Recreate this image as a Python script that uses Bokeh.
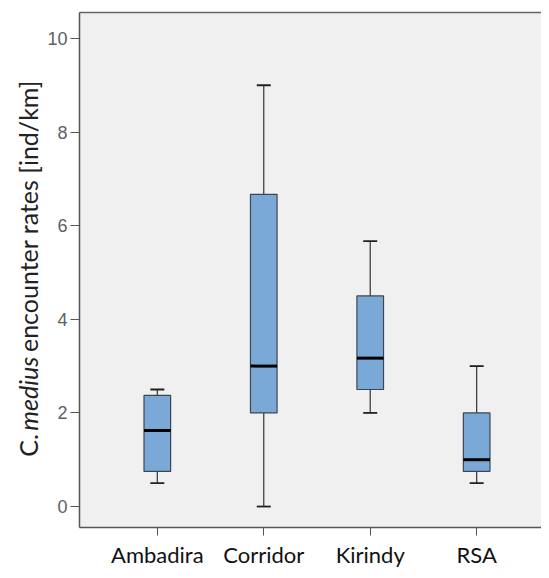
import numpy as np
from bokeh.plotting import figure
from bokeh.layouts import row
from bokeh.models import (Range1d, FixedTicker, LinearAxis, Whisker, TeeHead,
                          ColumnDataSource, Label)
from bokeh.embed import file_html
from bokeh.resources import INLINE

categories = ["Ambadira", "Corridor", "Kirindy", "RSA"]
whisker_low = [0.5, 0.0, 2.0, 0.5]
q1 = [0.75, 2.0, 2.5, 0.75]
median = [1.625, 3.0, 3.17, 1.0]
q3 = [2.375, 6.67, 4.5, 2.0]
whisker_high = [2.5, 9.0, 5.67, 3.0]
y_ticks = [0, 2, 4, 6, 8, 10]

pos = [i + 1 for i in range(len(categories))]
bw = 0.25
src = ColumnDataSource(dict(
    x=pos, lo=whisker_low, q1=q1, med=median, q3=q3, hi=whisker_high,
    mx0=[p_ - bw / 2 for p_ in pos], mx1=[p_ + bw / 2 for p_ in pos],
))

H = 570
yr = Range1d(-0.448, 10.554)

p = figure(width=497, height=H, output_backend="svg", toolbar_location=None,
           x_range=Range1d(0.269, 4.609), y_range=yr,
           min_border_left=34, min_border_right=0, min_border_top=12,
           min_border_bottom=42)
p.background_fill_color = "#F0F0F0"
p.border_fill_color = "white"
p.outline_line_color = None
p.grid.visible = False

# box
p.vbar(x="x", width=bw, bottom="q1", top="q3", source=src,
       fill_color="#7AA9D8", line_color="#3E4650", line_width=1.2)
# whiskers
up = Whisker(base="x", lower="q3", upper="hi", source=src, dimension="height",
             line_color="#333333", line_width=1.2,
             upper_head=TeeHead(size=14, line_color="#222222", line_width=1.8),
             lower_head=None)
lo = Whisker(base="x", lower="lo", upper="q1", source=src, dimension="height",
             line_color="#333333", line_width=1.2,
             lower_head=TeeHead(size=14, line_color="#222222", line_width=1.8),
             upper_head=None)
p.add_layout(up)
p.add_layout(lo)
# median
p.segment(x0="mx0", x1="mx1", y0="med", y1="med", source=src,
          line_color="black", line_width=3)

# axes
for ax in (p.xaxis[0], p.yaxis[0]):
    ax.axis_line_color = "#555555"
    ax.axis_line_width = 1.5
    ax.major_tick_line_color = "#555555"
    ax.minor_tick_line_color = None
    ax.major_tick_in = 0

p.yaxis.ticker = FixedTicker(ticks=y_ticks)
p.yaxis.major_tick_out = 9
p.yaxis.major_label_standoff = 3
p.yaxis.major_label_text_font = "Liberation Sans"
p.yaxis.major_label_text_font_size = "18px"
p.yaxis.major_label_text_color = "#606060"

p.xaxis.ticker = FixedTicker(ticks=pos)
p.xaxis.major_label_overrides = {p_: c for p_, c in zip(pos, categories)}
p.xaxis.major_tick_out = 8
p.xaxis.major_label_standoff = 5
p.xaxis.major_label_text_font = "Lato"
p.xaxis.major_label_text_font_size = "22px"
p.xaxis.major_label_text_color = "#111111"

top = LinearAxis(axis_line_color="#666666", axis_line_width=1.5,
                 ticker=FixedTicker(ticks=[]),
                 major_tick_line_color=None, minor_tick_line_color=None)
p.add_layout(top, "above")

# side strip carrying the y axis title (with italic species name)
t = figure(width=44, height=H, output_backend="svg", toolbar_location=None,
           x_range=Range1d(0, 1), y_range=yr, x_axis_type=None,
           y_axis_type=None, min_border_left=0, min_border_right=0,
           min_border_top=12, min_border_bottom=42)
t.background_fill_color = "white"
t.border_fill_color = "white"
t.outline_line_color = None
t.grid.visible = False

lab_font = dict(angle=np.pi / 2, text_font="Lato", text_font_size="25px",
                text_color="#222222", text_baseline="middle",
                text_align="left", x=27, x_units="screen", y_units="data")
t.add_layout(Label(y=1.066, text="C.", **lab_font))
t.add_layout(Label(y=1.62, text="medius", text_font_style="italic", **lab_font))
t.add_layout(Label(y=3.30, text="encounter rates [ind/km]", **lab_font))

layout = row(t, p, spacing=0)
open("out.html", "w").write(file_html(layout, INLINE))
